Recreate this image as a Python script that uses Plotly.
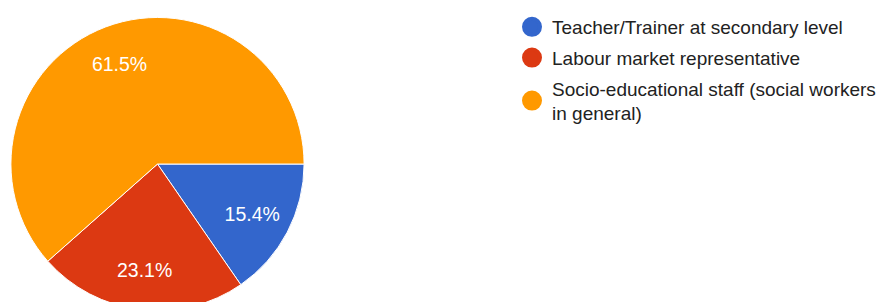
import plotly.graph_objects as go

categories = ["Teacher/Trainer at secondary level",
              "Labour market representative",
              "Socio-educational staff (social workers<br>in general)"]
values = [2, 3, 8]
colors = ["#3366CC", "#DC3912", "#FF9900"]

W, H = 890, 320
cx, cy, r = 149.5, 155, 147.5
dom = dict(x=[(cx - r) / W, (cx + r) / W], y=[(H - cy - r) / H, (H - cy + r) / H])
FONT = "Liberation Sans, Arial, sans-serif"

fig = go.Figure()
# slices
fig.add_trace(go.Pie(
    labels=categories, values=values, sort=False, direction="clockwise",
    rotation=90, marker=dict(colors=colors, line=dict(color="white", width=1)),
    textinfo="none", showlegend=False, hoverinfo="label+percent", domain=dom,
))
# percentage labels (transparent ring so the labels sit further out)
fig.add_trace(go.Pie(
    labels=categories, values=values, sort=False, direction="clockwise",
    rotation=90, hole=0.46,
    marker=dict(colors=["rgba(0,0,0,0)"] * 3, line=dict(width=0)),
    texttemplate="%{percent:.1%}", textposition="inside",
    insidetextorientation="horizontal",
    textfont=dict(color="white", size=19.5, family=FONT),
    showlegend=False, hoverinfo="skip", domain=dom,
))
for i, (name, c) in enumerate(zip(categories, colors)):
    fig.add_trace(go.Scatter(x=[None], y=[None], mode="markers", name=name,
                             legendgroup=f"g{i}",
                             marker=dict(color=c, size=16, symbol="circle",
                                         line=dict(color=c, width=4))))

fig.update_layout(
    width=W, height=H, margin=dict(l=0, r=0, t=0, b=0),
    paper_bgcolor="white", plot_bgcolor="white",
    xaxis=dict(visible=False), yaxis=dict(visible=False),
    legend=dict(x=504 / W, y=1 + 2 / H, xanchor="left", yanchor="top",
                font=dict(family=FONT, size=19, color="#222222"),
                itemsizing="trace", tracegroupgap=3, bgcolor="rgba(0,0,0,0)"),
    font=dict(family=FONT),
)
fig.write_html("out.html")
